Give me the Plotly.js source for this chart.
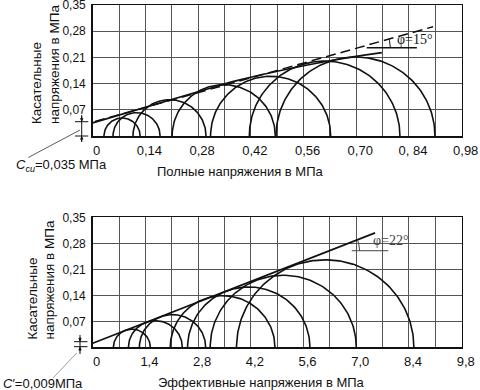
<!DOCTYPE html>
<html><head><meta charset="utf-8">
<script src="https://cdn.plot.ly/plotly-3.0.1.min.js"></script>
<style>html,body{margin:0;padding:0;background:#fff}#chart{width:480px;height:390px}</style>
</head><body><div id="chart"></div>
<script>
// ---------- Top chart: total stresses (MPa) ----------
const topXTicks  = [0,0.07,0.14,0.21,0.28,0.35,0.42,0.49,0.56,0.63,0.70,0.77,0.84,0.91,0.98];
const topXLabels = ['0','','0,14','','0,28','','0,42','','0,56','','0,70','','0, 84','','0,98'];
const yTicks  = [0,0.07,0.14,0.21,0.28,0.35];
const yLabels = ['','0,07','0,14','0,21','0,28','0,35'];
const topSigma3 = [0.030,0.054,0.107,0.211,0.313,0.416,0.487];
const topSigma1 = [0.126,0.179,0.301,0.485,0.632,0.816,0.909];
const topEnvX = [0,0.302,0.391,0.630,0.768];
const topEnvY = [0.035,0.125,0.150,0.201,0.2226];
const topDashX = [0.006,0.904];
const topDashY = [0.0387,0.292];
const topRefX = [0.728,0.861];
const topRefY = [0.236,0.236];
const topPhiText = 'φ=15°';
// ---------- Bottom chart: effective stresses (MPa) ----------
const botXTicks  = [0,0.7,1.4,2.1,2.8,3.5,4.2,4.9,5.6,6.3,7.0,7.7,8.4,9.1,9.8];
const botXLabels = ['0','','1,4','','2,8','','4,2','','5,6','','7,0','','8,4','','9,8'];
const botSigma3 = [0.55,0.95,1.24,2.06,2.52,3.12,3.82];
const botSigma1 = [1.53,2.38,3.00,4.84,5.77,7.00,8.53];
const botEnvX = [0,7.5];
const botEnvY = [0.011,0.308];
const botRefX = [6.88,7.85];
const botRefY = [0.260,0.260];
const botPhiText = 'φ=22°';
const botTauScale = 0.1; // τ-axis units per σ-axis unit on the lower chart

const INK = '#111';
function semi(s3, s1, xa, ya, k) {
  const c = (s3 + s1) / 2, r = (s1 - s3) / 2, xs = [], ys = [];
  for (let i = 0; i <= 120; i++) { const t = Math.PI * i / 120; xs.push(c + r * Math.cos(t)); ys.push(k * r * Math.sin(t)); }
  return {x: xs, y: ys, xaxis: xa, yaxis: ya, mode: 'lines', line: {color: INK, width: 1.6}, hoverinfo: 'skip', showlegend: false};
}
function arc(cx, cy, rx, ry, ang, xa, ya, col) {
  const xs = [], ys = [];
  for (let i = 0; i <= 20; i++) { const t = ang * i / 20; xs.push(cx + rx * Math.cos(t)); ys.push(cy + ry * Math.sin(t)); }
  return {x: xs, y: ys, xaxis: xa, yaxis: ya, mode: 'lines', line: {color: col, width: 1}, hoverinfo: 'skip', showlegend: false};
}
const traces = [];
for (let i = 0; i < topSigma3.length; i++) traces.push(semi(topSigma3[i], topSigma1[i], 'x', 'y', 1));
traces.push({x: topEnvX, y: topEnvY, xaxis: 'x', yaxis: 'y', mode: 'lines', line: {color: INK, width: 1.7, shape: 'spline'}, hoverinfo: 'skip'});
traces.push({x: topDashX, y: topDashY, xaxis: 'x', yaxis: 'y', mode: 'lines', line: {color: INK, width: 1.5, dash: '10px,5px'}, hoverinfo: 'skip'});
traces.push({x: topRefX, y: topRefY, xaxis: 'x', yaxis: 'y', mode: 'lines', line: {color: INK, width: 1.5}, hoverinfo: 'skip'});
const tSlope = (topDashY[1] - topDashY[0]) / (topDashX[1] - topDashX[0]);
const tIx = topDashX[0] + (topRefY[0] - topDashY[0]) / tSlope;
traces.push(arc(tIx, topRefY[0], 0.085, 0.085, Math.atan(tSlope), 'x', 'y', INK));

for (let i = 0; i < botSigma3.length; i++) traces.push(semi(botSigma3[i], botSigma1[i], 'x2', 'y2', botTauScale));
traces.push({x: botEnvX, y: botEnvY, xaxis: 'x2', yaxis: 'y2', mode: 'lines', line: {color: INK, width: 1.7}, hoverinfo: 'skip'});
traces.push({x: botRefX, y: botRefY, xaxis: 'x2', yaxis: 'y2', mode: 'lines', line: {color: '#444', width: 1}, hoverinfo: 'skip'});
const bSlope = (botEnvY[1] - botEnvY[0]) / (botEnvX[1] - botEnvX[0]);
const bIx = botEnvX[0] + (botRefY[0] - botEnvY[0]) / bSlope;
traces.push(arc(bIx, botRefY[0], 0.80, 0.080, Math.atan(bSlope / botTauScale), 'x2', 'y2', '#444'));

const px = v => v / 480, py = v => 1 - v / 390;
const FONT = 'Liberation Sans, Arial, sans-serif';
function xax(dom, rng, anchor, tv, tt) {
  return {domain: dom, range: rng, anchor: anchor, tickmode: 'array', tickvals: tv, ticktext: tt,
    showgrid: true, gridcolor: '#555', gridwidth: 1, showline: true, linecolor: INK, linewidth: 1.5, mirror: true,
    zeroline: false, ticks: '', tickfont: {size: 13, family: FONT, color: INK}, ticklabelshift: 4, ticklabelstandoff: 2,
    ticklabeloverflow: 'allow', fixedrange: true};
}
function yax(dom, anchor) {
  return {domain: dom, range: [0, 0.35], anchor: anchor, tickmode: 'array', tickvals: yTicks, ticktext: yLabels,
    showgrid: true, gridcolor: '#555', gridwidth: 1, showline: true, linecolor: INK, linewidth: 1.5, mirror: true,
    zeroline: false, ticks: '', tickfont: {size: 12, family: FONT, color: INK}, ticklabelstandoff: 3,
    ticklabeloverflow: 'allow', fixedrange: true};
}
function pline(x0, y0, x1, y1, col, w) {
  return {type: 'line', xref: 'paper', yref: 'paper', x0: px(x0), y0: py(y0), x1: px(x1), y1: py(y1), line: {color: col, width: w}};
}
function pArrow(x, y, ay) {
  return {xref: 'paper', yref: 'paper', x: px(x), y: py(y), ax: 0, ay: ay, text: '', showarrow: true,
    arrowhead: 2, arrowsize: 0.7, arrowwidth: 1, arrowcolor: INK};
}
function txt(x, y, t, size, extra) {
  return Object.assign({xref: 'paper', yref: 'paper', x: px(x), y: py(y), text: t, showarrow: false,
    xanchor: 'center', yanchor: 'middle', font: {size: size, family: FONT, color: INK}}, extra || {});
}

const layout = {
  width: 480, height: 390, margin: {l: 0, r: 0, t: 0, b: 0},
  paper_bgcolor: '#fff', plot_bgcolor: '#fff', showlegend: false,
  font: {family: FONT, color: INK},
  xaxis: xax([px(92.7), px(461.7)], [0, 0.98], 'y', topXTicks, topXLabels),
  yaxis: yax([py(136), py(5)], 'x'),
  xaxis2: xax([px(92.7), px(461.7)], [0, 9.8], 'y2', botXTicks, botXLabels),
  yaxis2: yax([py(347.3), py(217.3)], 'x2'),
  shapes: [
    pline(81.7, 115, 81.7, 142, INK, 1),
    pline(75, 121.7, 88.3, 121.7, INK, 1),
    pline(75, 136, 88.3, 136, INK, 1),
    pline(28.3, 157.5, 80, 130, '#333', 0.8),
    pline(80, 335, 80, 354, INK, 1),
    pline(74, 341.7, 87.5, 341.7, INK, 1),
    pline(74, 346.7, 87.5, 346.7, INK, 1),
    pline(53, 378, 76.7, 353, '#888', 0.8)
  ],
  annotations: [
    pArrow(81.7, 121.7, -7), pArrow(81.7, 136, 7),
    pArrow(80, 341.7, -6), pArrow(80, 346.7, 6),
    txt(46, 65, 'Касательные<br>напряжения в МПа', 13.5, {textangle: -90, align: 'left'}),
    txt(41, 280.5, 'Касательные<br>напряжения в МПа', 13.5, {textangle: -90, align: 'left'}),
    txt(240, 171.7, 'Полные напряжения в МПа', 13),
    txt(261, 382.7, 'Эффективные напряжения в МПа', 13),
    txt(61.5, 165, '<i>C<sub>cu</sub></i>=0,035 МПа', 13),
    txt(42.5, 383, '<i>C</i>′=0,009МПа', 13),
    txt(415, 40, topPhiText, 14, {font: {size: 14, family: 'Liberation Serif, Times New Roman, serif', color: INK}}),
    txt(391, 240, botPhiText, 14, {font: {size: 14, family: 'Liberation Serif, Times New Roman, serif', color: '#444'}})
  ]
};
Plotly.newPlot('chart', traces, layout, {staticPlot: true, displayModeBar: false});
</script>
</body></html>
